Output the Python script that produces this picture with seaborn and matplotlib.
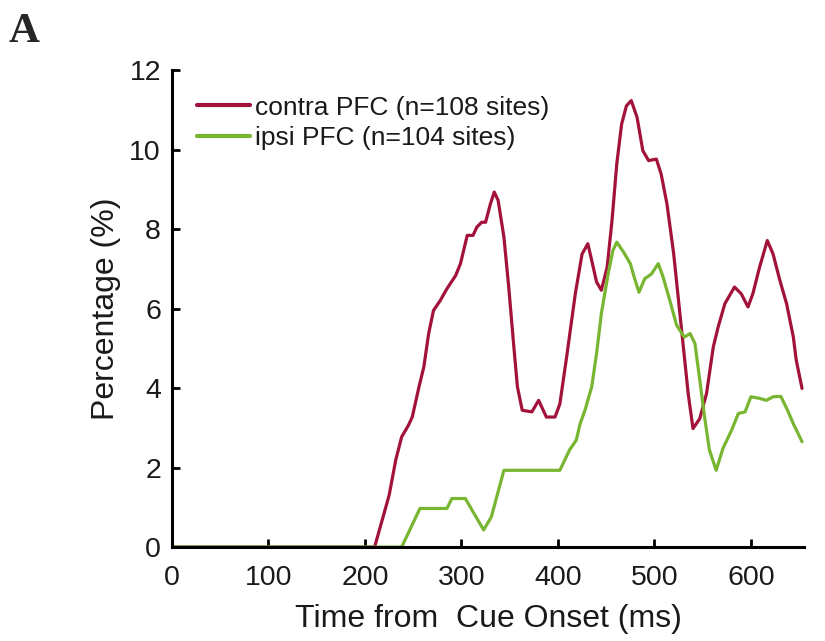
"""Доля сайтов во времени от начала подсказки"""

import pandas as pd
import matplotlib.pyplot as plt
import seaborn as sns

# contra PFC (n=108 sites)
contra_t = [0, 210, 225, 232, 238, 245, 249, 256, 261, 266, 271, 278, 285, 294, 299, 306,
            312, 316, 321, 325, 330, 334, 338, 344, 349, 354, 358, 363, 373, 380, 388, 397,
            402, 409, 418, 425, 431, 435, 440, 445, 451, 456, 461, 466, 471, 476, 482, 488,
            494, 502, 507, 513, 520, 525, 530, 535, 540, 547, 554, 561, 566, 573, 583, 590,
            597, 602, 609, 617, 623, 630, 637, 644, 647, 653]
contra_v = [0, 0, 1.3, 2.2, 2.77, 3.06, 3.27, 4.03, 4.53, 5.37, 5.95, 6.2, 6.5, 6.83, 7.13, 7.84,
            7.84, 8.05, 8.17, 8.17, 8.63, 8.93, 8.72, 7.8, 6.54, 5.12, 4.03, 3.44, 3.4, 3.69, 3.27, 3.27,
            3.6, 4.78, 6.37, 7.37, 7.63, 7.21, 6.67, 6.46, 7.04, 8.2, 9.64, 10.64, 11.1, 11.23, 10.81, 9.97,
            9.72, 9.76, 9.38, 8.63, 7.37, 6.2, 5.03, 3.86, 2.98, 3.23, 3.86, 5.03, 5.53, 6.12, 6.54, 6.37,
            6.04, 6.37, 7.04, 7.71, 7.37, 6.71, 6.12, 5.28, 4.7, 3.99]

# ipsi PFC (n=104 sites)
ipsi_t = [0, 238, 257, 285, 290, 304, 323, 331, 344, 402, 412, 419, 423, 428, 435, 440,
          445, 452, 457, 461, 468, 475, 480, 484, 490, 497, 504, 509, 516, 523, 531, 537,
          542, 547, 552, 557, 564, 571, 580, 587, 594, 600, 609, 616, 623, 631, 638, 644, 653]
ipsi_v = [0, 0, 0.97, 0.97, 1.22, 1.22, 0.43, 0.76, 1.93, 1.93, 2.44, 2.69, 3.1, 3.44, 4.03, 4.86,
          5.87, 6.87, 7.46, 7.67, 7.42, 7.13, 6.71, 6.41, 6.75, 6.87, 7.13, 6.79, 6.2, 5.58, 5.28, 5.37,
          5.12, 4.2, 3.27, 2.44, 1.93, 2.48, 2.94, 3.36, 3.4, 3.78, 3.74, 3.69, 3.78, 3.79, 3.44, 3.1, 2.65]

labels = ['contra PFC (n=108 sites)', 'ipsi PFC (n=104 sites)']
colors = ['#A3123A', '#78B632']

df = pd.concat([
    pd.DataFrame({'time': contra_t, 'pct': contra_v, 'group': labels[0]}),
    pd.DataFrame({'time': ipsi_t, 'pct': ipsi_v, 'group': labels[1]}),
])

sns.set_style('ticks')
plt.rcParams['font.family'] = ['Liberation Sans', 'DejaVu Sans']

fig = plt.figure(figsize=(8.25, 6.41), dpi=100)
ax = fig.add_axes([0.2085, 0.1466, 0.766, 0.7442])

sns.lineplot(data=df, x='time', y='pct', hue='group', palette=dict(zip(labels, colors)),
             linewidth=2.3, ax=ax, sort=False, estimator=None)

ax.set_xlim(0, 655)
ax.set_ylim(0, 12)
ax.set_xticks(range(0, 700, 100))
ax.set_yticks(range(0, 13, 2))
ax.tick_params(direction='in', length=6, width=2, labelsize=20.5, colors='black',
               labelcolor='#1a1a1a')
ax.tick_params(axis='x', pad=13)
ax.tick_params(axis='y', pad=8)
for s in ['top', 'right']:
    ax.spines[s].set_visible(False)
for s in ['left', 'bottom']:
    ax.spines[s].set_linewidth(2.2)
    ax.spines[s].set_color('black')

ax.set_xlabel('Time from  Cue Onset (ms)', fontsize=23, labelpad=9, color='#1a1a1a')
ax.set_ylabel('Percentage (%)', fontsize=23, labelpad=6, color='#1a1a1a')

leg = ax.legend(loc='upper left', fontsize=19, frameon=False, handlelength=2.0,
                handletextpad=0.2, labelspacing=0.25, borderaxespad=0.3,
                bbox_to_anchor=(0.01, 0.985))
for line in leg.get_lines():
    line.set_linewidth(3)
for t in leg.get_texts():
    t.set_color('#1a1a1a')

fig.text(0.011, 0.934, 'A', fontsize=31, fontweight='bold', family='Liberation Serif')

plt.savefig('out.png', dpi=100)
plt.close()
